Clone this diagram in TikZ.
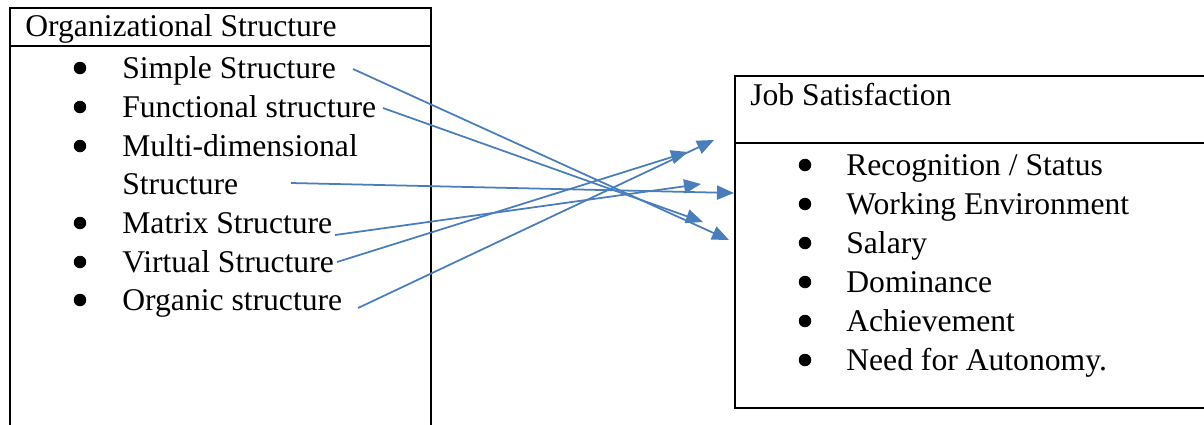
\documentclass[tikz,border=0pt]{standalone}
\usepackage{fontspec}
\setmainfont{Liberation Serif}
\usetikzlibrary{arrows.meta}
\definecolor{linkblue}{HTML}{4A7EBB}

\begin{document}
\begin{tikzpicture}[x=0.02cm, y=-0.02cm,
	every node/.style={inner sep=0pt, font=\fontsize{18}{22}\selectfont},
	item/.style={anchor=base west},
	dot/.style={circle, fill=black, minimum size=0.25cm},
	frame/.style={draw=black, line width=1.1pt},
	link/.style={draw=linkblue, line width=1pt, -{Triangle[length=0.34cm, width=0.28cm]}}]
				\path[use as bounding box] (0,0) rectangle (1204,424);
				\clip (0,0) rectangle (1204,424);
				
				% left box
				\draw[frame] (10,8) rectangle (431,440);
				\draw[frame] (10,46) -- (431,46);
				\node[item] (org) at (25,36){Organizational Structure};
				\node[dot] (o1) at (80,68){};
				\node[dot] (o2) at (80,107){};
				\node[dot] (o3) at (80,146){};
				\node[dot] (o4) at (80,223){};
				\node[dot] (o5) at (80,262){};
				\node[dot] (o6) at (80,300){};
				\node[item] (simple) at (122,78){Simple Structure};
				\node[item] (functional) at (122,117){Functional structure};
				\node[item] (multi) at (122,156){Multi-dimensional};
				\node[item] (multib) at (122,194){Structure};
				\node[item] (matrix) at (122,233){Matrix Structure};
				\node[item] (virtual) at (122,272){Virtual Structure};
				\node[item] (organic) at (122,310){Organic structure};
				
				% right box
				\draw[frame] (735,76) rectangle (1220,408);
				\draw[frame] (735,143) -- (1220,143);
				\node[item] (job) at (750,105){Job Satisfaction};
				\node[dot] (j1) at (805,165){};
				\node[dot] (j2) at (805,204){};
				\node[dot] (j3) at (805,243){};
				\node[dot] (j4) at (805,282){};
				\node[dot] (j5) at (805,321){};
				\node[dot] (j6) at (805,360){};
				\node[item] (recog) at (846,175){Recognition / Status};
				\node[item] (working) at (846,214){Working Environment};
				\node[item] (salary) at (846,253){Salary};
				\node[item] (dominance) at (846,292){Dominance};
				\node[item] (achieve) at (846,331){Achievement};
				\node[item] (autonomy) at (846,370){Need for Autonomy.};
				
				% arrow ends
				\coordinate (simpleS) at (353,69);
				\coordinate (simpleT) at (729,240);
				\coordinate (functionalS) at (383,108);
				\coordinate (functionalT) at (703,222);
				\coordinate (multiS) at (291,183);
				\coordinate (multiT) at (734,193);
				\coordinate (matrixS) at (335,235);
				\coordinate (matrixT) at (701,184);
				\coordinate (virtualS) at (337,262);
				\coordinate (virtualT) at (688,152);
				\coordinate (organicS) at (358,308);
				\coordinate (organicT) at (714,140);
				
				\path[link] (simpleS) -- (simpleT);
				\path[link] (functionalS) -- (functionalT);
				\path[link] (multiS) -- (multiT);
				\path[link] (matrixS) -- (matrixT);
				\path[link] (virtualS) -- (virtualT);
				\path[link] (organicS) -- (organicT);
\end{tikzpicture}
\end{document}
